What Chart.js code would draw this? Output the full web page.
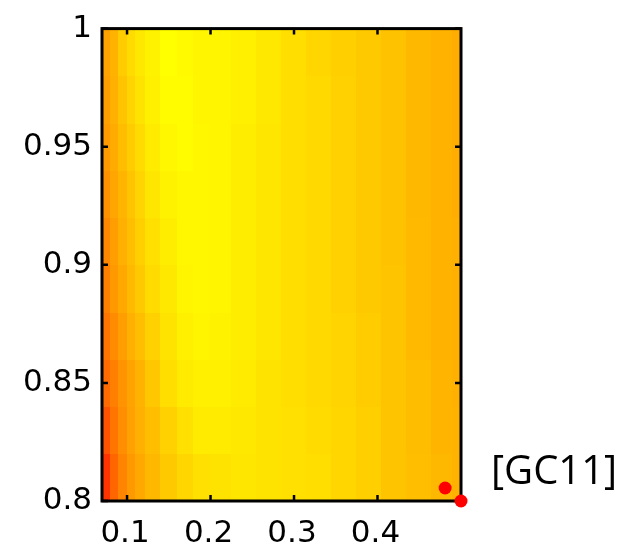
<!DOCTYPE html>
<html><head><meta charset="utf-8">
<style>html,body{margin:0;padding:0;background:#fff;}canvas{display:block;}</style>
<script src="https://cdn.jsdelivr.net/npm/chart.js@4/dist/chart.umd.min.js"></script>
</head><body>
<canvas id="c" width="628" height="549"></canvas>
<script>
// ---- data ----
const xCenters = [0.075, 0.085, 0.095, 0.105, 0.115, 0.13, 0.15, 0.17, 0.19, 0.21, 0.24, 0.27, 0.30, 0.33, 0.36, 0.39, 0.42, 0.45, 0.48, 0.50];
const yCenters = [0.81, 0.83, 0.85, 0.87, 0.89, 0.91, 0.93, 0.95, 0.97, 0.99];
// colour level (0 = red, 1 = yellow), one row per yCenter
const row081 = [0.20, 0.40, 0.52, 0.60, 0.66, 0.72, 0.79, 0.84, 0.88, 0.89, 0.90, 0.89, 0.88, 0.87, 0.84, 0.81, 0.77, 0.75, 0.72, 0.70];
const row083 = [0.32, 0.46, 0.56, 0.63, 0.69, 0.75, 0.82, 0.88, 0.92, 0.92, 0.91, 0.89, 0.88, 0.86, 0.84, 0.81, 0.77, 0.74, 0.71, 0.70];
const row085 = [0.42, 0.50, 0.58, 0.64, 0.70, 0.78, 0.87, 0.92, 0.94, 0.94, 0.92, 0.89, 0.87, 0.85, 0.83, 0.80, 0.77, 0.74, 0.71, 0.69];
const row087 = [0.46, 0.55, 0.62, 0.69, 0.75, 0.82, 0.89, 0.94, 0.96, 0.95, 0.93, 0.90, 0.87, 0.85, 0.83, 0.80, 0.77, 0.73, 0.70, 0.69];
const row089 = [0.50, 0.60, 0.66, 0.73, 0.79, 0.86, 0.91, 0.96, 0.97, 0.96, 0.93, 0.90, 0.87, 0.85, 0.82, 0.79, 0.77, 0.73, 0.70, 0.69];
const row091 = [0.53, 0.62, 0.69, 0.75, 0.81, 0.88, 0.93, 0.97, 0.97, 0.96, 0.93, 0.90, 0.87, 0.85, 0.82, 0.79, 0.76, 0.73, 0.70, 0.69];
const row093 = [0.57, 0.65, 0.71, 0.77, 0.83, 0.90, 0.95, 0.97, 0.97, 0.96, 0.93, 0.90, 0.87, 0.85, 0.82, 0.79, 0.76, 0.72, 0.70, 0.68];
const row095 = [0.60, 0.67, 0.74, 0.80, 0.86, 0.92, 0.97, 0.99, 0.97, 0.96, 0.93, 0.90, 0.87, 0.85, 0.82, 0.79, 0.76, 0.72, 0.70, 0.68];
const row097 = [0.62, 0.69, 0.77, 0.83, 0.89, 0.94, 0.99, 0.99, 0.96, 0.96, 0.94, 0.91, 0.87, 0.85, 0.82, 0.79, 0.76, 0.72, 0.70, 0.68];
const row099 = [0.63, 0.70, 0.80, 0.86, 0.91, 0.95, 1.00, 0.98, 0.96, 0.96, 0.94, 0.91, 0.87, 0.84, 0.81, 0.79, 0.76, 0.72, 0.70, 0.68];
const gridRows = [row081, row083, row085, row087, row089, row091, row093, row095, row097, row099];

const xTicks = [0.1, 0.2, 0.3, 0.4];
const yTicks = [0.8, 0.85, 0.9, 0.95, 1];
const xRange = [0.07, 0.5];
const yRange = [0.8, 1.0];
const markerX = [0.481, 0.5];
const markerY = [0.8055, 0.8];
const sideLabel = '[GC11]';

// ---- helpers ----
function bounds(centers, range) {
  return centers.map((c, i) => [
    i === 0 ? range[0] : (centers[i - 1] + c) / 2,
    i === centers.length - 1 ? range[1] : (c + centers[i + 1]) / 2
  ]);
}
const xB = bounds(xCenters, xRange);
const yB = bounds(yCenters, yRange);
function autumn(v) { return 'rgb(255,' + Math.round(255 * Math.max(0, Math.min(1, v))) + ',0)'; }

const heatmap = {
  id: 'heatmap',
  beforeDatasetsDraw(chart) {
    const { ctx, chartArea: a, scales: { x, y } } = chart;
    ctx.save();
    ctx.beginPath(); ctx.rect(a.left, a.top, a.right - a.left, a.bottom - a.top); ctx.clip();
    gridRows.forEach((row, j) => {
      const t = y.getPixelForValue(yB[j][1]), b = y.getPixelForValue(yB[j][0]);
      row.forEach((v, i) => {
        const l = x.getPixelForValue(xB[i][0]), r = x.getPixelForValue(xB[i][1]);
        ctx.fillStyle = autumn(v);
        ctx.fillRect(Math.floor(l), Math.floor(t), Math.ceil(r) - Math.floor(l), Math.ceil(b) - Math.floor(t));
      });
    });
    ctx.restore();
    // frame and inward ticks
    ctx.save();
    ctx.strokeStyle = '#000'; ctx.lineWidth = 3;
    ctx.strokeRect(a.left, a.top, a.right - a.left, a.bottom - a.top);
    ctx.lineWidth = 2.5;
    const tl = 6;
    ctx.beginPath();
    xTicks.forEach(v => {
      const p = x.getPixelForValue(v);
      ctx.moveTo(p, a.bottom); ctx.lineTo(p, a.bottom - tl);
      ctx.moveTo(p, a.top); ctx.lineTo(p, a.top + tl);
    });
    yTicks.forEach(v => {
      const p = y.getPixelForValue(v);
      ctx.moveTo(a.left, p); ctx.lineTo(a.left + tl, p);
      ctx.moveTo(a.right, p); ctx.lineTo(a.right - tl, p);
    });
    ctx.stroke();
    ctx.restore();
  },
  afterDraw(chart) {
    const ctx = chart.ctx;
    ctx.save();
    ctx.fillStyle = '#000';
    ctx.font = '40px "Open Sans"';
    ctx.textBaseline = 'alphabetic';
    ctx.textAlign = 'left';
    ctx.fillText(sideLabel, 491, 484);
    ctx.restore();
  }
};

new Chart(document.getElementById('c'), {
  type: 'scatter',
  data: {
    datasets: [{
      data: markerX.map((v, i) => ({ x: v, y: markerY[i] })),
      backgroundColor: '#ff0000',
      borderWidth: 0,
      pointRadius: 6.5,
      clip: false
    }]
  },
  options: {
    responsive: false,
    animation: false,
    events: [],
    layout: { padding: { top: 23, right: 167, bottom: 0, left: 0 } },
    plugins: { legend: { display: false }, tooltip: { enabled: false } },
    scales: {
      x: {
        type: 'linear', min: xRange[0], max: xRange[1],
        grid: { display: false, drawTicks: false },
        border: { display: false },
        afterBuildTicks: s => { s.ticks = xTicks.map(v => ({ value: v })); },
        afterFit: s => { s.height = 48; },
        ticks: {
          color: '#000', padding: 14, labelOffset: -2,
          font: { family: '"DejaVu Sans"', size: 31 },
          callback: v => String(v)
        }
      },
      y: {
        type: 'linear', min: yRange[0], max: yRange[1],
        grid: { display: false, drawTicks: false },
        border: { display: false },
        afterBuildTicks: s => { s.ticks = yTicks.map(v => ({ value: v })); },
        afterFit: s => { s.width = 102; },
        ticks: {
          color: '#000', padding: 10,
          font: { family: '"DejaVu Sans"', size: 31 },
          callback: v => String(v)
        }
      }
    }
  },
  plugins: [heatmap]
});
</script>
</body></html>
